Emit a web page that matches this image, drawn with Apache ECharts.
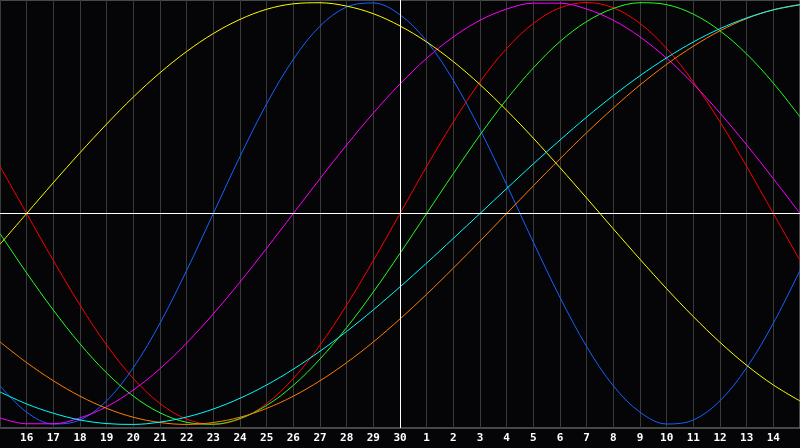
<!DOCTYPE html>
<html>
<head>
<meta charset="utf-8">
<script src="https://cdn.jsdelivr.net/npm/echarts@6/dist/echarts.min.js"></script>
<style>
  html, body { margin: 0; padding: 0; background: #050407; }
  #chart { width: 800px; height: 448px; }
</style>
</head>
<body>
<div id="chart"></div>
<script>
// day labels, one per grid column (index 0 .. 30)
const dayLabels = ["15", "16", "17", "18", "19", "20", "21", "22", "23", "24", "25", "26", "27", "28", "29", "30",
  "1", "2", "3", "4", "5", "6", "7", "8", "9", "10", "11", "12", "13", "14", "15"];
const todayIndex = 15;

// daily values, -1 .. 1
const physical = [-0.817, -0.942, -0.998, -0.979, -0.888, -0.731, -0.520, -0.270, 0, 0.270, 0.520, 0.731, 0.888, 0.979, 0.998, 0.942,
  0.817, 0.631, 0.398, 0.136, -0.136, -0.398, -0.631, -0.817, -0.942, -0.998, -0.979, -0.888, -0.731, -0.520, -0.270];
const emotional = [0.223, 0, -0.223, -0.434, -0.624, -0.782, -0.901, -0.975, -1, -0.975, -0.901, -0.782, -0.624, -0.434, -0.223, 0,
  0.223, 0.434, 0.624, 0.782, 0.901, 0.975, 1, 0.975, 0.901, 0.782, 0.624, 0.434, 0.223, 0, -0.223];
const intellectual = [-0.095, -0.282, -0.458, -0.618, -0.756, -0.866, -0.945, -0.990, -0.999, -0.972, -0.910, -0.815, -0.690, -0.541, -0.372, -0.189,
  0, 0.189, 0.372, 0.541, 0.690, 0.815, 0.910, 0.972, 0.999, 0.990, 0.945, 0.866, 0.756, 0.618, 0.458];
const intuitive = [-0.969, -0.997, -0.997, -0.969, -0.916, -0.837, -0.736, -0.614, -0.476, -0.325, -0.165, 0, 0.165, 0.325, 0.476, 0.614,
  0.736, 0.837, 0.916, 0.969, 0.997, 0.997, 0.969, 0.916, 0.837, 0.736, 0.614, 0.476, 0.325, 0.165, 0];
const aesthetic = [-0.146, 0, 0.146, 0.288, 0.424, 0.552, 0.667, 0.768, 0.853, 0.920, 0.968, 0.994, 0.999, 0.983, 0.947, 0.889,
  0.813, 0.720, 0.611, 0.489, 0.357, 0.217, 0.073, -0.073, -0.217, -0.357, -0.489, -0.611, -0.720, -0.813, -0.889];
const awareness = [-0.609, -0.707, -0.793, -0.866, -0.924, -0.966, -0.991, -1, -0.991, -0.966, -0.924, -0.866, -0.793, -0.707, -0.609, -0.5,
  -0.383, -0.259, -0.131, 0, 0.131, 0.259, 0.383, 0.5, 0.609, 0.707, 0.793, 0.866, 0.924, 0.966, 0.991];
const spiritual = [-0.846, -0.903, -0.947, -0.979, -0.996, -1.0, -0.989, -0.965, -0.927, -0.876, -0.813, -0.738, -0.653, -0.559, -0.457, -0.348,
  -0.235, -0.118, 0, 0.118, 0.235, 0.348, 0.457, 0.559, 0.653, 0.738, 0.813, 0.876, 0.927, 0.965, 0.989];

const curves = [
  { name: "Physical", data: physical, color: "#1464ff" },
  { name: "Emotional", data: emotional, color: "#ff0000" },
  { name: "Intellectual", data: intellectual, color: "#22ff22" },
  { name: "Intuitive", data: intuitive, color: "#ff00ff" },
  { name: "Aesthetic", data: aesthetic, color: "#ffff00" },
  { name: "Awareness", data: awareness, color: "#ff8000" },
  { name: "Spiritual", data: spiritual, color: "#00ffff" },
];

const chart = echarts.init(document.getElementById("chart"));

const series = curves.map((c) => ({
  name: c.name,
  type: "line",
  data: c.data.map((v, i) => [i, v]),
  smooth: 0.35,
  showSymbol: false,
  lineStyle: { color: c.color, width: 1 },
  itemStyle: { color: c.color },
  silent: true,
}));

// white cross: zero line and today line
series.unshift({
  type: "line",
  data: [],
  silent: true,
  markLine: {
    silent: true,
    symbol: "none",
    label: { show: false },
    lineStyle: { color: "#ffffff", width: 1, type: "solid" },
    data: [{ yAxis: 0 }, { xAxis: todayIndex }],
  },
});

chart.setOption({
  animation: false,
  backgroundColor: "#050407",
  grid: {
    left: 0, right: -1, top: 0, bottom: 20,
    show: true,
    borderColor: "#8c8c8c",
    borderWidth: 1,
    backgroundColor: "#050407",
  },
  xAxis: {
    type: "value",
    min: 0,
    max: 30,
    interval: 1,
    axisLine: { show: false },
    axisTick: { show: false },
    splitLine: { show: true, lineStyle: { color: "#3a3a3a", width: 1 } },
    axisLabel: {
      showMinLabel: false,
      showMaxLabel: false,
      margin: 5,
      color: "#ffffff",
      fontFamily: "DejaVu Sans Mono",
      fontWeight: "bold",
      fontSize: 11,
      formatter: (v) => dayLabels[v],
    },
  },
  yAxis: {
    type: "value",
    min: -1.017,
    max: 1.012,
    axisLine: { show: false },
    axisTick: { show: false },
    axisLabel: { show: false },
    splitLine: { show: false },
  },
  series: series,
});
</script>
</body>
</html>
